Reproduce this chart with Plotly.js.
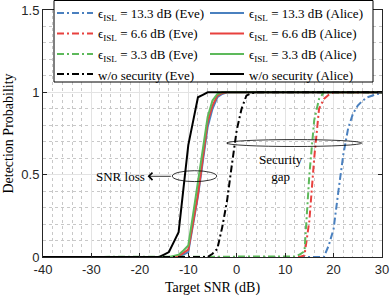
<!DOCTYPE html>
<html>
<head>
<meta charset="utf-8">
<script src="https://cdn.plot.ly/plotly-3.0.1.min.js"></script>
<style>html,body{margin:0;padding:0;background:#fff;}#chart{width:391px;height:301px;}</style>
</head>
<body>
<div id="chart"></div>
<script>
// Target SNR grid (dB)
const snr = [-40,-39,-38,-37,-36,-35,-34,-33,-32,-31,-30,-29,-28,-27,-26,-25,-24,-23,-22,-21,
  -20,-19,-18,-17,-16,-15,-14,-13,-12,-11,-10,-9,-8,-7,-6,-5,-4,-3,-2,-1,
  0,1,2,3,4,5,6,7,8,9,10,11,12,13,14,15,16,17,18,19,20,21,22,23,24,25,26,27,28,29,30];

// Eve detection probability
const eve133 = [0,0,0,0,0,0,0,0,0,0,0,0,0,0,0,0,0,0,0,0,
  0,0,0,0,0,0,0,0,0,0,0,0,0,0,0,0,0,0,0,0,
  0,0,0,0,0,0,0,0,0,0,0,0,0,0,0,0,0,0,0,0.07,0.17,0.4,0.62,0.78,0.87,0.92,0.95,0.97,0.98,0.99,0.995];
const eve66 = [0,0,0,0,0,0,0,0,0,0,0,0,0,0,0,0,0,0,0,0,
  0,0,0,0,0,0,0,0,0,0,0,0,0,0,0,0,0,0,0,0,
  0,0,0,0,0,0,0,0,0,0,0,0,0,0,0.01,0.22,0.6,0.9,0.96,0.985,1,1,1,1,1,1,1,1,1,1,1];
const eve33 = [0,0,0,0,0,0,0,0,0,0,0,0,0,0,0,0,0,0,0,0,
  0,0,0,0,0,0,0,0,0,0,0,0,0,0,0,0,0,0,0,0,
  0,0,0,0,0,0,0,0,0,0,0,0,0.003,0.015,0.035,0.5,0.83,0.96,1,1,1,1,1,1,1,1,1,1,1,1,1];
const eveNoSec = [0,0,0,0,0,0,0,0,0,0,0,0,0,0,0,0,0,0,0,0,
  0,0,0,0,0,0,0,0,0,0,0,0,0,0,0,0.02,0.05,0.18,0.34,0.56,
  0.77,0.9,0.98,0.995,1,1,1,1,1,1,1,1,1,1,1,1,1,1,1,1,1,1,1,1,1,1,1,1,1,1,1];

// Alice detection probability
const alice133 = [0,0,0,0,0,0,0,0,0,0,0,0,0,0,0,0,0,0,0,0,
  0,0,0,0,0,0,0,0,0,0.015,0.03,0.2,0.37,0.58,0.79,0.9,0.97,0.99,1,1,
  1,1,1,1,1,1,1,1,1,1,1,1,1,1,1,1,1,1,1,1,1,1,1,1,1,1,1,1,1,1,1];
const alice66 = [0,0,0,0,0,0,0,0,0,0,0,0,0,0,0,0,0,0,0,0,
  0,0,0,0,0,0,0,0,0.005,0.025,0.045,0.21,0.38,0.6,0.82,0.92,0.98,0.995,1,1,
  1,1,1,1,1,1,1,1,1,1,1,1,1,1,1,1,1,1,1,1,1,1,1,1,1,1,1,1,1,1,1];
const alice33 = [0,0,0,0,0,0,0,0,0,0,0,0,0,0,0,0,0,0,0,0,
  0,0,0,0,0,0,0,0.007,0.014,0.04,0.07,0.26,0.45,0.65,0.85,0.95,0.99,1,1,1,
  1,1,1,1,1,1,1,1,1,1,1,1,1,1,1,1,1,1,1,1,1,1,1,1,1,1,1,1,1,1,1];
const aliceNoSec = [0,0,0,0,0,0,0,0,0,0,0,0,0,0,0,0,0,0,0,0,
  0,0,0,0,0,0.015,0.03,0.09,0.15,0.415,0.68,0.825,0.97,0.985,1,1,1,1,1,1,
  1,1,1,1,1,1,1,1,1,1,1,1,1,1,1,1,1,1,1,1,1,1,1,1,1,1,1,1,1,1,1];

const eveNames = ['ϵ<sub>ISL</sub> = 13.3 dB (Eve)', 'ϵ<sub>ISL</sub> = 6.6 dB (Eve)',
  'ϵ<sub>ISL</sub> = 3.3 dB (Eve)', 'w/o security (Eve)'];
const aliceNames = ['ϵ<sub>ISL</sub> = 13.3 dB (Alice)', 'ϵ<sub>ISL</sub> = 6.6 dB (Alice)',
  'ϵ<sub>ISL</sub> = 3.3 dB (Alice)', 'w/o security (Alice)'];
const xTickVals = [-40,-30,-20,-10,0,10,20,30];
const xTickLabels = ['-40','-30','-20','-10','0','10','20','30'];

const blue = '#4a80bf', red = '#e8413e', green = '#5db95b', black = '#000000';
const colors = [blue, red, green, black];
const dd = '7px,3px,2px,3px';
function tr(y, name, color, dash) {
  return {x: snr, y: y, name: name, type: 'scatter', mode: 'lines', showlegend: false,
    line: {color: color, width: 2, dash: dash}};
}
const data = [
  tr(alice133, aliceNames[0], blue, 'solid'),
  tr(alice66, aliceNames[1], red, 'solid'),
  tr(alice33, aliceNames[2], green, 'solid'),
  tr(eve133, eveNames[0], blue, dd),
  tr(eve66, eveNames[1], red, dd),
  tr(eve33, eveNames[2], green, dd),
  tr(eveNoSec, eveNames[3], black, dd),
  tr(aliceNoSec, aliceNames[3], black, 'solid')
];

const serif = '"Liberation Serif", "DejaVu Serif", serif';
const sans = '"Liberation Sans", Arial, sans-serif';
const axisCommon = {
  showline: true, linecolor: '#262626', linewidth: 1, mirror: 'ticks',
  ticks: 'inside', ticklen: 4, tickcolor: '#262626', zeroline: false,
  showgrid: true, gridcolor: '#e3e3e3', gridwidth: 1,
  tickfont: {family: sans, size: 13, color: '#262626'}
};

// legend (manual, two columns) in pixel space of the 391x301 figure
const M = {l: 43, r: 9, t: 10, b: 44};
const PW = 391 - M.l - M.r, PH = 301 - M.t - M.b;
const px = v => (v - M.l) / PW;
const py = v => (301 - M.b - v) / PH;
const rowY = [13, 33.5, 54, 74];
const shapes = [
  {type: 'rect', xref: 'paper', yref: 'paper', x0: px(54), x1: px(373), y0: py(82), y1: py(0.5),
    fillcolor: '#ffffff', line: {color: '#000', width: 1}, layer: 'above'},
  {type: 'circle', xref: 'x', yref: 'y', x0: -2.06, x1: 25.8, y0: 0.671, y1: 0.713,
    line: {color: '#000', width: 0.8}},
  {type: 'circle', xref: 'x', yref: 'y', x0: -13.3, x1: -4.13, y0: 0.458, y1: 0.524,
    line: {color: '#000', width: 0.8}}
];
const annotations = [
  {x: 9.15, y: 0.54, xref: 'x', yref: 'y', text: 'Security<br>gap', showarrow: false,
    font: {family: serif, size: 13, color: '#000'}},
  {x: -18.6, y: 0.49, xref: 'x', yref: 'y', text: 'SNR loss', showarrow: false, xanchor: 'right',
    font: {family: serif, size: 13, color: '#000'}},
  {x: -18.4, y: 0.49, ax: -13.3, ay: 0.49, xref: 'x', yref: 'y', axref: 'x', ayref: 'y',
    text: '', showarrow: true, arrowhead: 4, arrowsize: 1.8, arrowwidth: 0.8, arrowcolor: '#000'}
];
for (let i = 0; i < 4; i++) {
  shapes.push({type: 'line', xref: 'paper', yref: 'paper', x0: px(57), x1: px(93),
    y0: py(rowY[i]), y1: py(rowY[i]), line: {color: colors[i], width: 2, dash: dd}, layer: 'above'});
  shapes.push({type: 'line', xref: 'paper', yref: 'paper', x0: px(210), x1: px(244),
    y0: py(rowY[i]), y1: py(rowY[i]), line: {color: colors[i], width: 2}, layer: 'above'});
  annotations.push({xref: 'paper', yref: 'paper', x: px(95.5), y: py(rowY[i] + 1.5), text: eveNames[i],
    xanchor: 'left', yanchor: 'middle', showarrow: false, font: {family: serif, size: 13, color: '#000'}});
  annotations.push({xref: 'paper', yref: 'paper', x: px(246.5), y: py(rowY[i] + 1.5), text: aliceNames[i],
    xanchor: 'left', yanchor: 'middle', showarrow: false, font: {family: serif, size: 13, color: '#000'}});
}

const layout = {
  width: 391, height: 301,
  margin: M,
  paper_bgcolor: '#fff', plot_bgcolor: '#fff',
  showlegend: false,
  xaxis: Object.assign({}, axisCommon, {
    range: [-40, 30], tickvals: xTickVals, ticktext: xTickLabels,
    minor: {dtick: 2, tick0: 0, showgrid: true, gridcolor: '#c8c8c8', griddash: 'dot', gridwidth: 1, ticks: ''},
    title: {text: 'Target SNR (dB)', font: {family: serif, size: 14, color: '#000'}, standoff: 6}
  }),
  yaxis: Object.assign({}, axisCommon, {
    range: [0, 1.5], tickvals: [0, 0.5, 1, 1.5], ticktext: ['0', '0.5', '1', '1.5'],
    minor: {dtick: 0.1, tick0: 0, showgrid: true, gridcolor: '#c8c8c8', griddash: 'dot', gridwidth: 1, ticks: ''},
    title: {text: 'Detection Probability', font: {family: serif, size: 14, color: '#000'}, standoff: 4}
  }),
  shapes: shapes,
  annotations: annotations
};
Plotly.newPlot('chart', data, layout, {displayModeBar: false, staticPlot: true});
</script>
</body>
</html>
